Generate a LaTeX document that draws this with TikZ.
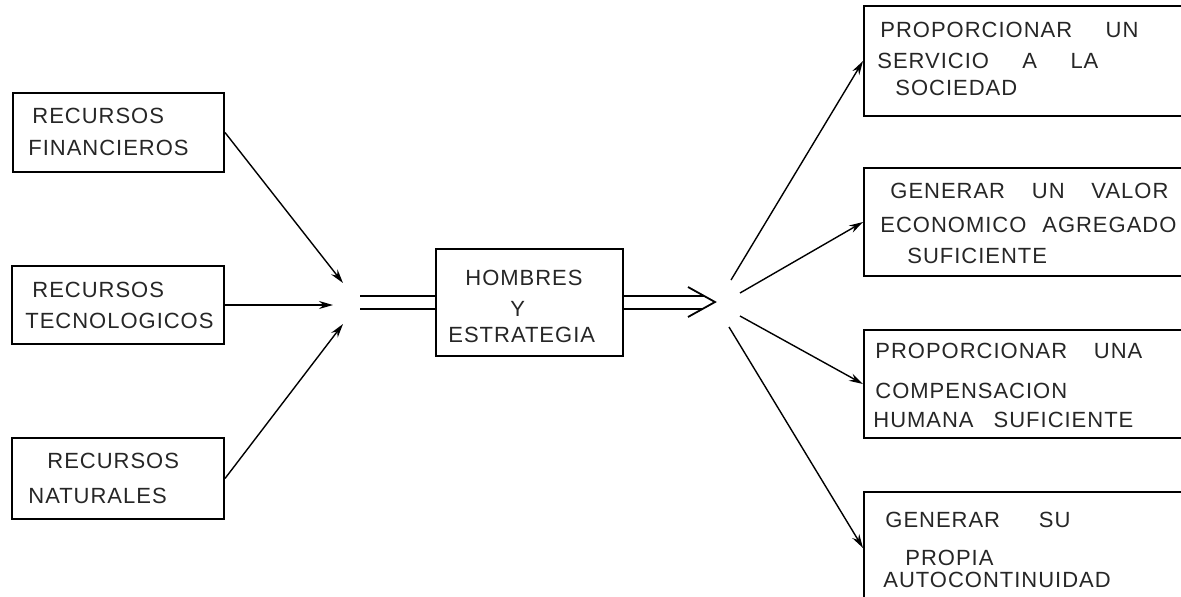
\documentclass[tikz,border=0pt]{standalone}
\usepackage{fontspec}
\usetikzlibrary{arrows.meta}
\newfontfamily\lett[LetterSpace=4.5]{Liberation Sans}
\newcommand\fitw[2]{\makebox[#1][s]{#2}}
\tikzset{
  box/.style={draw, line width=1pt, inner sep=0pt, anchor=north west},
  lbl/.style={anchor=base west, inner sep=0pt, font=\lett\fontsize{11}{13}\selectfont, text=black!85},
  conn/.style={line width=0.7pt, -{Stealth[length=7pt,width=4pt]}},
  dbl/.style={line width=0.9pt}
}
\begin{document}
\begin{tikzpicture}[x=0.5pt, y=-0.5pt]
\useasboundingbox (0,0) rectangle (1181,596);
\clip (0,0) rectangle (1181,596);

% resource boxes
\node[box, minimum width=105.5pt, minimum height=39.5pt] (b1) at (12,92) {};
\node[box, minimum width=106pt, minimum height=39pt] (b2) at (11,265) {};
\node[box, minimum width=106pt, minimum height=40.5pt] (b3) at (11,437) {};
% central box
\node[box, minimum width=93.5pt, minimum height=53.5pt] (c) at (435,248) {};
% outcome boxes (run past the right and bottom edges)
\node[box, minimum width=163.5pt, minimum height=55pt] (ra) at (863,5) {};
\node[box, minimum width=163.5pt, minimum height=54pt] (rb) at (863,167) {};
\node[box, minimum width=163.5pt, minimum height=54pt] (rc) at (863,329) {};
\node[box, minimum width=163.5pt, minimum height=56pt] (rd) at (863,491) {};

% labels
\node[lbl] (t1a) at (32,123) {RECURSOS};
\node[lbl] (t1b) at (28,155) {FINANCIEROS};
\node[lbl] (t2a) at (32,297) {RECURSOS};
\node[lbl] (t2b) at (25,328) {TECNOLOGICOS};
\node[lbl] (t3a) at (47,468) {RECURSOS};
\node[lbl] (t3b) at (28,503) {NATURALES};

\node[lbl] (tca) at (465,285) {HOMBRES};
\node[lbl] (tcb) at (510,316) {Y};
\node[lbl] (tcc) at (448,342) {ESTRATEGIA};

\node[lbl] (taa) at (880,37) {\fitw{129pt}{PROPORCIONAR UN}};
\node[lbl] (tab) at (877,68) {\fitw{110.5pt}{SERVICIO A LA}};
\node[lbl] (tac) at (895,95) {SOCIEDAD};

\node[lbl] (tba) at (890,198) {\fitw{139pt}{GENERAR UN VALOR}};
\node[lbl] (tbb) at (880,232) {\fitw{148pt}{ECONOMICO AGREGADO}};
\node[lbl] (tbc) at (907,263) {SUFICIENTE};

\node[lbl] (tda) at (875,358) {\fitw{133.5pt}{PROPORCIONAR UNA}};
\node[lbl] (tdb) at (875,398) {COMPENSACION};
\node[lbl] (tdc) at (873,427) {\fitw{130pt}{HUMANA SUFICIENTE}};

\node[lbl] (tea) at (885,527) {\fitw{92.5pt}{GENERAR SU}};
\node[lbl] (teb) at (905,565) {PROPIA};
\node[lbl] (tec) at (883,587) {AUTOCONTINUIDAD};

% converging arrows
\coordinate (e1) at (343,283);
\coordinate (e2) at (333,303);
\coordinate (e3) at (343,324);
\draw[conn] (b1.east) -- (e1);
\draw[conn] (b2.east) -- (b2.east -| e2);
\draw[conn] (b3.east) -- (e3);

% double input line
\coordinate (dl1) at (360,296);
\coordinate (dl2) at (360,309);
\draw[dbl] (dl1) -- (dl1 -| c.west);
\draw[dbl] (dl2) -- (dl2 -| c.west);

% double output arrow
\coordinate (tip) at (715,302);
\coordinate (ua) at (688,287);
\coordinate (la) at (688,317);
\coordinate (ue) at (704,296);
\coordinate (le) at (702,309);
\draw[dbl] (ue -| c.east) -- (ue);
\draw[dbl] (le -| c.east) -- (le);
\draw[dbl, line join=miter] (ua) -- (tip) -- (la);

% diverging arrows
\coordinate (s1) at (731,280);
\coordinate (s2) at (740,293);
\coordinate (s3) at (740,316);
\coordinate (s4) at (729,327);
\draw[conn] (s1) -- (ra.west);
\draw[conn] (s2) -- (rb.west);
\draw[conn] (s3) -- (rc.west);
\draw[conn] (s4) -- (rd.west);
\end{tikzpicture}
\end{document}
